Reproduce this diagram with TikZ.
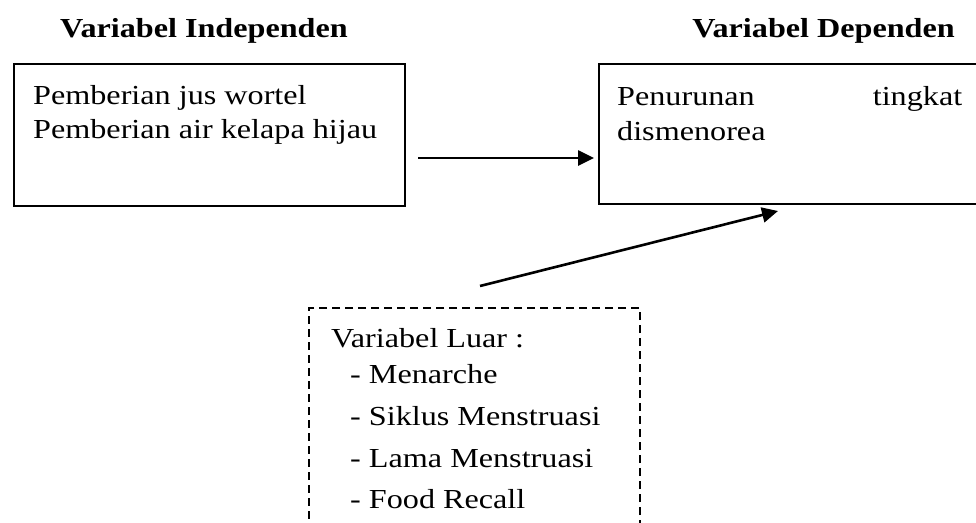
\documentclass[tikz,border=0pt]{standalone}
\usepackage{fontspec}
\setmainfont{Liberation Serif}[FakeStretch=1.17]
\usetikzlibrary{arrows.meta}
\tikzset{
  kotak/.style={draw, line width=1.8pt, inner sep=0pt, anchor=north west},
  teks/.style={anchor=base west, inner sep=0pt, font=\fontsize{27.5}{34}\selectfont},
  judul/.style={teks, font=\fontsize{27.5}{34}\selectfont\bfseries},
  panah/.style={line width=2.6pt, -{Triangle[length=16pt,width=15pt]}}
}
\begin{document}
\begin{tikzpicture}[x=1pt,y=-1pt]
      \clip (0,0) rectangle (976,522);
      \fill[white] (0,0) rectangle (976,522);
      % judul
      \node[judul] (judulA) at (60,37) {Variabel Independen};
      \node[judul, anchor=base east] (judulB) at (955,37) {Variabel Dependen};
      % kotak
      \node[kotak, minimum width=391pt, minimum height=142pt] (indep) at (13,63) {};
      \node[kotak, minimum width=400pt, minimum height=140pt] (dep) at (598,63) {};
      \node[kotak, line width=2pt, dash pattern=on 8pt off 5pt, minimum width=331pt, minimum height=240pt] (luar) at (308,307) {};
      % isi kotak
      \node[teks] (x1) at (33,104) {Pemberian jus wortel};
      \node[teks] (x2) at (33,138) {Pemberian air kelapa hijau};
      \node[teks] (y1) at (617,105) {\makebox[345pt][l]{Penurunan\hfill tingkat}};
      \node[teks] (y2) at (617,140) {dismenorea};
      \node[teks] (z0) at (331,347) {Variabel Luar :};
      \node[teks] (z1) at (350,383) {- Menarche};
      \node[teks] (z2) at (350,425) {- Siklus Menstruasi};
      \node[teks] (z3) at (350,467) {- Lama Menstruasi};
      \node[teks] (z4) at (350,508) {- Food Recall};
      % panah
      \coordinate (p1) at (418,158);
      \coordinate (p2) at (594,158);
      \coordinate (q1) at (480,286);
      \coordinate (q2) at (778,211);
      \draw[panah] (p1) -- (p2);
      \draw[panah] (q1) -- (q2);
\end{tikzpicture}
\end{document}
